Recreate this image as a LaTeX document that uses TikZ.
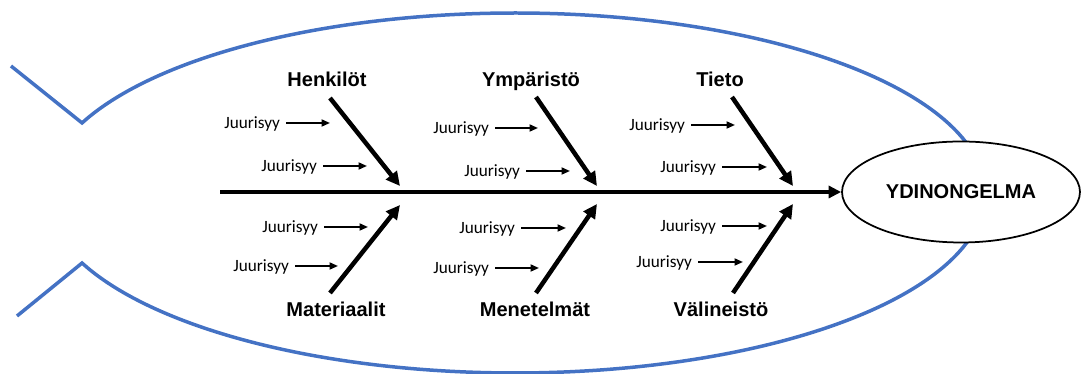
\documentclass[tikz,border=0pt]{standalone}
\usepackage{fontspec}
\setmainfont{Liberation Sans}
\newfontfamily\causefont{Carlito}
\usetikzlibrary{arrows.meta,shapes.geometric}
\definecolor{fishblue}{RGB}{68,114,196}
\begin{document}
\begin{tikzpicture}[x=0.02cm,y=0.02cm,
  fishline/.style={draw=fishblue, line width=0.07cm},
  spine/.style={line width=0.07cm, -{Triangle[length=0.25cm,width=0.24cm]}},
  bone/.style={line width=0.09cm, -{Triangle[length=0.28cm,width=0.27cm]}},
  causearrow/.style={line width=0.038cm, -{Triangle[length=0.17cm,width=0.14cm]}},
  cat/.style={anchor=base, inner sep=0pt, font=\fontsize{11.4pt}{13pt}\selectfont\bfseries},
  cause/.style={anchor=east, inner sep=0pt, outer sep=0.12cm, text height=6.2pt, text depth=0pt,
    font=\causefont\fontsize{9.8pt}{11pt}\selectfont},
  core/.style={ellipse, draw, line width=0.035cm, fill=white, inner sep=0pt,
    minimum width=4.76cm, minimum height=2.02cm, font=\fontsize{11.4pt}{13pt}\selectfont\bfseries}]
\useasboundingbox (0,0) rectangle (1082,374);

% fish body with tail
\coordinate (tailtop) at (11,308);
\coordinate (tailbot) at (17,58);
\draw[fishline] (tailtop) -- plot[domain=157.1:-157.1, samples=150, smooth]
  ({515+470*cos(\x)}, {181+180*sin(\x)}) -- (tailbot);

% head: the core problem
\node[core] (core) at (961,182) {YDINONGELMA};
\coordinate (spinestart) at (220,182);
\draw[spine] (spinestart) -- (core.west);

% category labels
\node[cat] (henk) at (327,287) {Henkilöt};
\node[cat] (ymp)  at (531,287) {Ympäristö};
\node[cat] (tieto) at (720,287) {Tieto};
\node[cat] (mat)  at (336,57) {Materiaalit};
\node[cat] (men)  at (535,57) {Menetelmät};
\node[cat] (val)  at (721,57) {Välineistö};

% main bones
\coordinate (henkA) at (330,276); \coordinate (henkB) at (400,188);
\coordinate (ympA) at (536,277);  \coordinate (ympB) at (597,188);
\coordinate (tietoA) at (732,277); \coordinate (tietoB) at (793,188);
\coordinate (matA) at (330,81);   \coordinate (matB) at (400,169);
\coordinate (menA) at (536,81);   \coordinate (menB) at (597,170);
\coordinate (valA) at (733,81);   \coordinate (valB) at (793,170);
\draw[bone] (henkA) -- (henkB);
\draw[bone] (ympA) -- (ympB);
\draw[bone] (tietoA) -- (tietoB);
\draw[bone] (matA) -- (matB);
\draw[bone] (menA) -- (menB);
\draw[bone] (valA) -- (valB);

% root causes
\foreach \n/\sx/\yy/\tx in {h1/286/251/330, h2/323/208/367,
    m1/324/147/368, m2/295/108/338,
    y1/495/246/538, y2/526/203/570,
    e1/521/146/566, e2/495/106/539,
    t1/691/249/735, t2/722/207/767,
    v1/722/148/767, v2/698/112/743}{
  \node[cause] (\n) at (\sx,\yy) {Juurisyy};
  \coordinate (\n tip) at (\tx,\yy);
  \draw[causearrow] (\n) -- (\n tip);
}
\end{tikzpicture}
\end{document}
